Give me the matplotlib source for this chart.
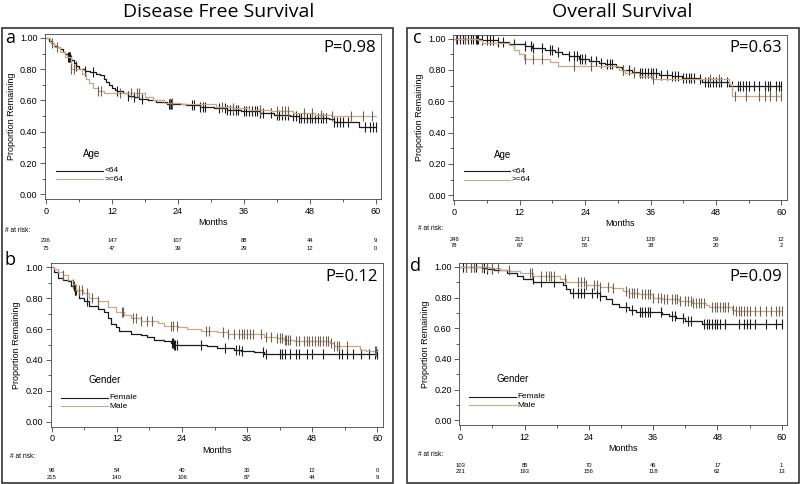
import numpy as np
import matplotlib
matplotlib.use("Agg")
import matplotlib.pyplot as plt
from matplotlib.patches import Rectangle
from matplotlib.ticker import MultipleLocator

plt.rcParams['font.family'] = ['Liberation Sans', 'DejaVu Sans']

BLACK = '#1a1a1a'
TAN = '#cba882'
TAN_CENS = '#6e6258'

ticks_x = [0, 12, 24, 36, 48, 60]

# ---- panel a : DFS by age ----
a_young_t = [0, 0.5, 1, 1.5, 2, 2.5, 3, 3.5, 4, 4.5, 5, 5.5, 6, 7, 8, 9, 9.8, 10.5, 11, 11.5,
             12, 12.5, 13, 14, 15, 16, 17, 18.5, 20, 22, 25.5, 28, 30.5, 33, 35.5, 39, 41.5,
             44.5, 46, 51.5, 52.5, 57]
a_young_s = [1.0, 0.98, 0.97, 0.95, 0.94, 0.93, 0.91, 0.90, 0.88, 0.86, 0.84, 0.82, 0.80, 0.79,
             0.78, 0.77, 0.76, 0.74, 0.72, 0.70, 0.68, 0.67, 0.66, 0.65, 0.63, 0.62, 0.61, 0.60,
             0.59, 0.58, 0.57, 0.56, 0.55, 0.54, 0.53, 0.52, 0.51, 0.50, 0.49, 0.48, 0.465, 0.43]
a_young_c = [4, 4.1, 4.2, 4.3, 4.5, 5.5, 7, 8.5, 13, 15, 16, 17.5, 22.3, 22.5, 22.7, 22.9, 26.5,
             27, 28, 28.5, 29, 31.5, 32.5, 33, 33.5, 34, 34.5, 35, 36, 36.5, 37, 37.5, 38, 38.5,
             39, 39.5, 41, 42, 42.5, 43, 43.5, 44, 45, 45.5, 46, 46.5, 47, 47.5, 48, 48.5, 49,
             49.5, 50, 50.5, 51, 52.5, 53, 53.5, 54, 55, 58, 59, 59.5, 60]
a_old_t = [0, 0.7, 1.5, 2.5, 3.5, 4.5, 6.5, 7.2, 7.8, 8.5, 9.5, 10.5, 18, 19.5, 21.5, 24.5, 31,
           34, 37, 41, 45, 49, 52]
a_old_s = [1.0, 0.97, 0.94, 0.91, 0.88, 0.80, 0.77, 0.74, 0.71, 0.68, 0.66, 0.645, 0.62, 0.60,
           0.585, 0.575, 0.56, 0.55, 0.54, 0.53, 0.52, 0.51, 0.50]
a_old_c = [1, 2, 4.5, 5, 9.5, 10, 13.5, 15.5, 16.5, 17, 22.5, 23, 32, 34, 39, 42, 43, 43.5, 44,
           47, 48.5, 50, 52, 55.5, 57.8, 59.3]
a_risk = [[236, 147, 107, 88, 44, 9], [75, 47, 39, 29, 12, 0]]

# ---- panel b : DFS by gender ----
b_fem_t = [0, 0.5, 1.1, 2, 2.9, 3.6, 4.2, 5.1, 6, 6.9, 8.5, 9.7, 10.3, 10.9, 11.8, 12.4, 14.6,
           16.4, 17.6, 18.9, 20.7, 21.9, 22.5, 28.7, 30.5, 33.6, 34.8, 37.3, 39.1]
b_fem_s = [1.0, 0.97, 0.93, 0.92, 0.91, 0.88, 0.85, 0.80, 0.78, 0.75, 0.73, 0.71, 0.67, 0.63,
           0.61, 0.59, 0.57, 0.56, 0.55, 0.53, 0.52, 0.51, 0.50, 0.49, 0.475, 0.465, 0.46,
           0.45, 0.44]
b_fem_c = [4.1, 4.2, 4.3, 4.5, 6.5, 22.2, 22.4, 22.6, 22.8, 23, 27.5, 32, 34, 34.5, 35, 39,
           39.5, 42, 42.5, 43, 44, 45, 45.5, 47, 48, 50, 53, 53.5, 54.5, 55.5, 57, 58.5, 59.5, 60]
b_male_t = [0, 0.5, 1.1, 2, 2.9, 3.9, 4.5, 5.7, 6.9, 8.5, 10.3, 11.8, 13.4, 14.6, 16.4, 19.5,
            20.7, 23.2, 25, 27.5, 30.5, 32.4, 34.8, 39.1, 41.5, 42.8, 44.6, 51.3, 52, 56.9, 58]
b_male_s = [1.0, 0.99, 0.97, 0.95, 0.92, 0.89, 0.85, 0.83, 0.80, 0.78, 0.74, 0.71, 0.69, 0.67,
            0.655, 0.64, 0.62, 0.61, 0.60, 0.59, 0.58, 0.57, 0.565, 0.55, 0.54, 0.53, 0.52,
            0.51, 0.49, 0.465, 0.455]
b_male_c = [2, 4, 5, 5.5, 6.5, 7.5, 8.5, 13, 13.2, 15, 15.5, 16.5, 17.5, 18.5, 22, 22.4, 23,
            28.5, 29, 31.5, 32.5, 33.5, 34.5, 35, 35.5, 36, 36.5, 37, 38.5, 39.5, 40.5, 41.5, 42,
            42.5, 43, 43.2, 43.5, 44, 45, 45.5, 46.5, 47, 47.5, 48, 48.5, 49, 49.5, 50, 50.5, 51,
            51.5, 52, 52.5, 53, 54.5, 59.5, 59.8]
b_risk = [[96, 54, 40, 30, 12, 0], [215, 140, 106, 87, 44, 9]]

# ---- panel c : OS by age ----
c_young_t = [0, 5, 8, 10, 13, 14.2, 16.7, 18.5, 19.8, 21, 22.8, 24.7, 26.5, 27.7, 29.6, 30.8,
             32.6, 33.9, 37.5, 40, 41.8, 44.9, 45.5, 50.4]
c_young_s = [1.0, 0.99, 0.98, 0.965, 0.955, 0.94, 0.93, 0.915, 0.90, 0.89, 0.87, 0.855, 0.845,
             0.835, 0.82, 0.80, 0.79, 0.78, 0.77, 0.76, 0.75, 0.74, 0.72, 0.70]
c_young_c = [0.5, 1, 1.5, 2, 2.5, 3, 3.5, 4, 4.2, 4.4, 5, 6, 6.5, 7, 8, 9, 11, 13, 14, 14.5, 16,
             17.5, 18, 19, 21, 22, 22.5, 23, 23.5, 24, 25, 26, 27, 28, 28.5, 29, 31, 32, 33, 34,
             34.5, 35, 35.5, 36, 36.5, 37, 38, 39, 40, 40.5, 41, 42, 42.5, 43, 43.5, 44, 45, 46,
             46.5, 47, 47.5, 48, 48.5, 49, 50, 51, 52, 52.5, 53, 53.5, 54, 55, 56, 57, 57.5, 58,
             59, 59.5, 60]
c_old_t = [0, 4.4, 5, 10, 10.9, 11.8, 12.7, 17.6, 19.1, 30.2, 31.4, 33.9, 36.3, 50.4, 51]
c_old_s = [1.0, 0.99, 0.975, 0.957, 0.93, 0.90, 0.87, 0.85, 0.823, 0.80, 0.78, 0.76, 0.74,
           0.71, 0.635]
c_old_c = [0.3, 2, 13, 14.5, 16, 22, 25, 31, 33, 36.5, 47, 48.5, 51.5, 53.5, 56, 57, 58, 59, 60]
c_risk = [[246, 211, 171, 128, 59, 12], [78, 67, 55, 38, 20, 2]]

# ---- panel d : OS by gender ----
d_fem_t = [0, 4.3, 5, 6.2, 8.7, 10.5, 11.7, 13.6, 19.2, 19.8, 20.4, 26, 27.2, 28.4, 29.7, 31.5,
           32.8, 37.7, 39, 40.2, 42, 45.1]
d_fem_s = [1.0, 0.99, 0.985, 0.98, 0.96, 0.94, 0.92, 0.90, 0.88, 0.855, 0.83, 0.81, 0.79, 0.76,
           0.74, 0.72, 0.705, 0.69, 0.68, 0.67, 0.65, 0.628]
d_fem_c = [0.5, 1, 2, 2.5, 3, 4, 4.5, 5, 6, 13.5, 15, 17.5, 21, 22, 22.5, 23, 24.5, 25.5, 26, 31,
           32, 33.5, 34, 34.5, 35, 35.5, 37.5, 39.5, 40, 41.5, 42.5, 43, 45.5, 46, 46.5, 47, 47.5,
           48, 48.5, 49.5, 52, 53, 53.5, 54, 55, 57, 59, 60]
d_male_t = [0, 5.6, 7.4, 9.3, 11.1, 12.4, 13.6, 18.6, 19.8, 23.5, 26, 28.4, 30.3, 31.5, 33.4,
            35.9, 37.7, 40.8, 43.3, 45.8, 46.4, 50.7, 51.3]
d_male_s = [1.0, 0.99, 0.98, 0.97, 0.96, 0.957, 0.94, 0.918, 0.90, 0.882, 0.87, 0.86, 0.845,
            0.83, 0.82, 0.796, 0.79, 0.78, 0.763, 0.75, 0.738, 0.72, 0.71]
d_male_c = [1, 2, 2.5, 4, 5, 6, 7, 9, 13, 13.3, 15, 16, 16.5, 17, 17.5, 19.5, 22, 22.5, 23, 23.5,
            25, 25.5, 26, 27.5, 28.5, 31, 31.5, 32, 32.5, 33, 34, 34.5, 35, 35.5, 36, 37, 37.5,
            38, 38.5, 39.5, 40, 40.5, 41, 42, 42.5, 43, 43.5, 44, 44.5, 45, 45.5, 47, 47.5, 48,
            48.5, 49, 49.5, 50, 51, 51.5, 52, 52.5, 53, 53.5, 54, 55, 56, 57, 58, 59, 59.5, 60]
d_risk = [[103, 85, 70, 46, 17, 1], [221, 193, 156, 118, 62, 13]]

W, H = 800, 484
fig = plt.figure(figsize=(8, 4.84), dpi=100)


def box(l, t, r, b):
    return [l / W, 1 - b / H, (r - l) / W, (b - t) / H]


def draw_km(ax, t, s, cens, color, ccolor):
    t = np.asarray(t, float)
    s = np.asarray(s, float)
    tt = np.append(t, 60)
    ss = np.append(s, s[-1])
    ax.step(tt, ss, where='post', color=color, lw=0.9)
    c = np.asarray(cens, float)
    idx = np.searchsorted(t, c, side='right') - 1
    ax.plot(c, s[idx], ls='none', marker='|', ms=6.5, mew=0.8, color=ccolor)


def panel(rect, curves, risk, pval, leg_title, leg_labels, risk_rows):
    ax = fig.add_axes(box(*rect))
    for t, s, cens, col, ccol in curves:
        draw_km(ax, t, s, cens, col, ccol)
    ax.set_xlim(-0.2, 61)
    ax.set_ylim(-0.03, 1.025)
    ax.set_xticks(ticks_x)
    ax.xaxis.set_minor_locator(MultipleLocator(6))
    ax.yaxis.set_major_locator(MultipleLocator(0.2))
    ax.yaxis.set_minor_locator(MultipleLocator(0.1))
    ax.yaxis.set_major_formatter(matplotlib.ticker.FormatStrFormatter('%.2f'))
    ax.tick_params(which='both', direction='out', labelsize=6.5, width=0.6, color='#444')
    ax.tick_params(which='major', length=3.5, pad=2)
    ax.tick_params(which='minor', length=2)
    for sp in ax.spines.values():
        sp.set_linewidth(0.6)
        sp.set_color('#444')
    ax.set_ylabel('Proportion Remaining', fontsize=6.5, labelpad=3)
    ax.set_xlabel('Months', fontsize=6.5, labelpad=2)
    ax.text(0.985, 0.965, pval, transform=ax.transAxes, ha='right', va='top', fontsize=12,
            family=['Open Sans', 'DejaVu Sans'])
    # legend
    ax.text(leg_title[0], leg_title[1], leg_title[2], fontsize=7, va='center')
    lx0, lx1, ly = leg_labels[0], leg_labels[1], leg_labels[2]
    ax.plot([lx0, lx1], [ly, ly], color=BLACK, lw=0.8)
    ax.plot([lx0, lx1], [ly - 0.055, ly - 0.055], color=TAN, lw=0.8)
    ax.text(lx1 + 0.3, ly, leg_labels[3], fontsize=6, va='center')
    ax.text(lx1 + 0.3, ly - 0.055, leg_labels[4], fontsize=6, va='center')
    # at risk
    tr = ax.get_xaxis_transform()
    for row, yy in zip(risk, risk_rows):
        for xv, n in zip(ticks_x, row):
            ax.text(xv, yy, str(n), transform=tr, fontsize=4.2, ha='center', va='center')
    return ax


# frames
fig.patches.append(Rectangle((1.5 / W, 1 - 483 / H), 391 / W, 455 / H, transform=fig.transFigure,
                             fill=False, lw=1.2, ec='#333'))
fig.patches.append(Rectangle((407 / W, 1 - 483 / H), 392 / W, 455 / H, transform=fig.transFigure,
                             fill=False, lw=1.2, ec='#333'))

fig.text(219 / W, 1 - 12 / H, 'Disease Free Survival', ha='center', va='center', fontsize=14,
         family=['Open Sans', 'DejaVu Sans'])
fig.text(622 / W, 1 - 12 / H, 'Overall Survival', ha='center', va='center', fontsize=14,
         family=['Open Sans', 'DejaVu Sans'])

ax_a = panel((45, 34, 381, 199),
             [(a_young_t, a_young_s, a_young_c, BLACK, BLACK),
              (a_old_t, a_old_s, a_old_c, TAN, TAN_CENS)],
             a_risk, 'P=0.98', (6.7, 0.26, 'Age'), (1.8, 10.3, 0.15, '<64', '>=64'),
             [-0.25, -0.3])
ax_b = panel((50.7, 263.3, 382.7, 426.5),
             [(b_fem_t, b_fem_s, b_fem_c, BLACK, BLACK),
              (b_male_t, b_male_s, b_male_c, TAN, TAN_CENS)],
             b_risk, 'P=0.12', (6.7, 0.27, 'Gender'), (1.7, 10.3, 0.155, 'Female', 'Male'),
             [-0.27, -0.31])
ax_c = panel((453.3, 34.7, 786.7, 200),
             [(c_young_t, c_young_s, c_young_c, BLACK, BLACK),
              (c_old_t, c_old_s, c_old_c, TAN, TAN_CENS)],
             c_risk, 'P=0.63', (7.2, 0.26, 'Age'), (1.7, 10.2, 0.155, '<64', '>=64'),
             [-0.24, -0.275])
ax_d = panel((459.3, 263, 787, 425),
             [(d_fem_t, d_fem_s, d_fem_c, BLACK, BLACK),
              (d_male_t, d_male_s, d_male_c, TAN, TAN_CENS)],
             d_risk, 'P=0.09', (6.7, 0.27, 'Gender'), (1.7, 10.3, 0.155, 'Female', 'Male'),
             [-0.25, -0.285])

# panel letters and "# at risk:"
for lx, ly, let in [(5, 38, 'a'), (4, 260, 'b'), (413, 38, 'c'), (410, 266, 'd')]:
    fig.text(lx / W, 1 - ly / H, let, fontsize=13, va='center', family=['Open Sans', 'DejaVu Sans'])
for lx, ly in [(5, 230), (10, 457), (418, 228), (418, 455)]:
    fig.text(lx / W, 1 - ly / H, '# at risk:', fontsize=4.8, va='center')

fig.savefig('out.png', dpi=100)
